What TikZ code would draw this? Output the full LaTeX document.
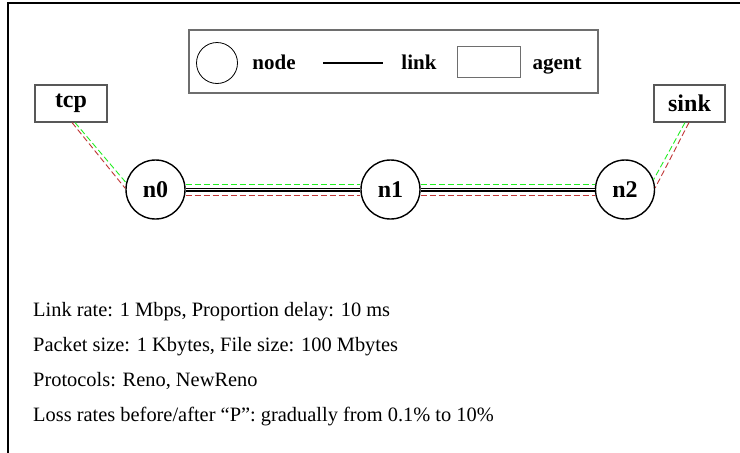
\documentclass[tikz,border=0pt]{standalone}
\usepackage{fontspec}
\setmainfont{Liberation Serif}
\definecolor{lgreen}{HTML}{22EE22}
\definecolor{lred}{HTML}{C03535}
\definecolor{boxgray}{HTML}{6E6E6E}
\begin{document}
\begin{tikzpicture}[x=1pt,y=-1pt,
  netnode/.style={circle,draw=black,line width=1.4pt,minimum size=59pt,inner sep=0pt,font=\fontsize{24}{26}\selectfont\bfseries},
  agentbox/.style={rectangle,draw=boxgray!80!black,line width=1.1pt,minimum width=72pt,minimum height=37pt,inner sep=0pt,font=\fontsize{24}{26}\selectfont\bfseries},
  legtext/.style={font=\fontsize{21}{24}\selectfont\bfseries,inner sep=0pt,anchor=base},
  infotext/.style={font=\fontsize{20.4}{24}\selectfont,anchor=base west,inner sep=0pt},
  greenlink/.style={draw=lgreen,line width=0.9pt,dash pattern=on 6pt off 3pt},
  redlink/.style={draw=lred,line width=0.9pt,dash pattern=on 6pt off 3pt},
  blacklink/.style={draw=black,double=white,double distance=1.4pt,line width=1.3pt}
]
\useasboundingbox (0,0) rectangle (740,453);
\fill[white] (0,0) rectangle (740,453);
% frame
\coordinate (fbl) at (8,453);
\coordinate (ftl) at (8,3);
\coordinate (ftr) at (740,3);
\draw[line width=1.5pt] (fbl) -- (ftl) -- (ftr);

% legend
\node[draw=boxgray,line width=1.8pt,minimum width=409pt,minimum height=63pt,inner sep=0pt] (legend) at (393.5,61.5) {};
\node[circle,draw=black,line width=0.8pt,minimum width=41pt,minimum height=40pt,inner sep=0pt] (legcirc) at (217,63) {};
\node[legtext] (legnode) at (274,69) {node};
\coordinate (lla) at (323,63);
\coordinate (llb) at (383,63);
\draw[line width=1.3pt] (lla) -- (llb);
\node[legtext] (leglink) at (419,69) {link};
\node[draw=boxgray,line width=1pt,minimum width=63pt,minimum height=31pt,inner sep=0pt] (legrect) at (488.5,61.5) {};
\node[legtext] (legagent) at (557,69) {agent};

% network nodes
\node[agentbox] (tcp) at (71,103.5) {tcp};
\node[agentbox,minimum width=71pt] (sink) at (689.5,103.5) {sink};
\node[netnode] (n0) at (155.5,189.5) {n0};
\node[netnode] (n1) at (390.5,189.5) {n1};
\node[netnode] (n2) at (625,189.5) {n2};

% links
\draw[blacklink] (n0) -- (n1);
\draw[blacklink] (n1) -- (n2);
\draw[greenlink] ([yshift=4.6pt]n0.east) -- ([yshift=4.6pt]n1.west);
\draw[greenlink] ([yshift=4.6pt]n1.east) -- ([yshift=4.6pt]n2.west);
\draw[redlink] ([yshift=-5.6pt]n0.east) -- ([yshift=-5.6pt]n1.west);
\draw[redlink] ([yshift=-5.6pt]n1.east) -- ([yshift=-5.6pt]n2.west);

\draw[greenlink] ([xshift=4pt]tcp.south) -- (n0.167);
\draw[redlink] ([xshift=1pt]tcp.south) -- (n0.178);
\draw[greenlink] ([xshift=-4.5pt]sink.south) -- (n2.19);
\draw[redlink] ([xshift=-0.5pt]sink.south) -- (n2.3);

% info text
\node[infotext] (t1) at (33,316) {Link rate: 1 Mbps, Proportion delay: 10 ms};
\node[infotext] (t2) at (33,351.5) {Packet size: 1 Kbytes, File size: 100 Mbytes};
\node[infotext] (t3) at (33,386.5) {Protocols: Reno, NewReno};
\node[infotext] (t4) at (33,421.5) {Loss rates before/after “P”: gradually from 0.1\% to 10\%};
\end{tikzpicture}
\end{document}
